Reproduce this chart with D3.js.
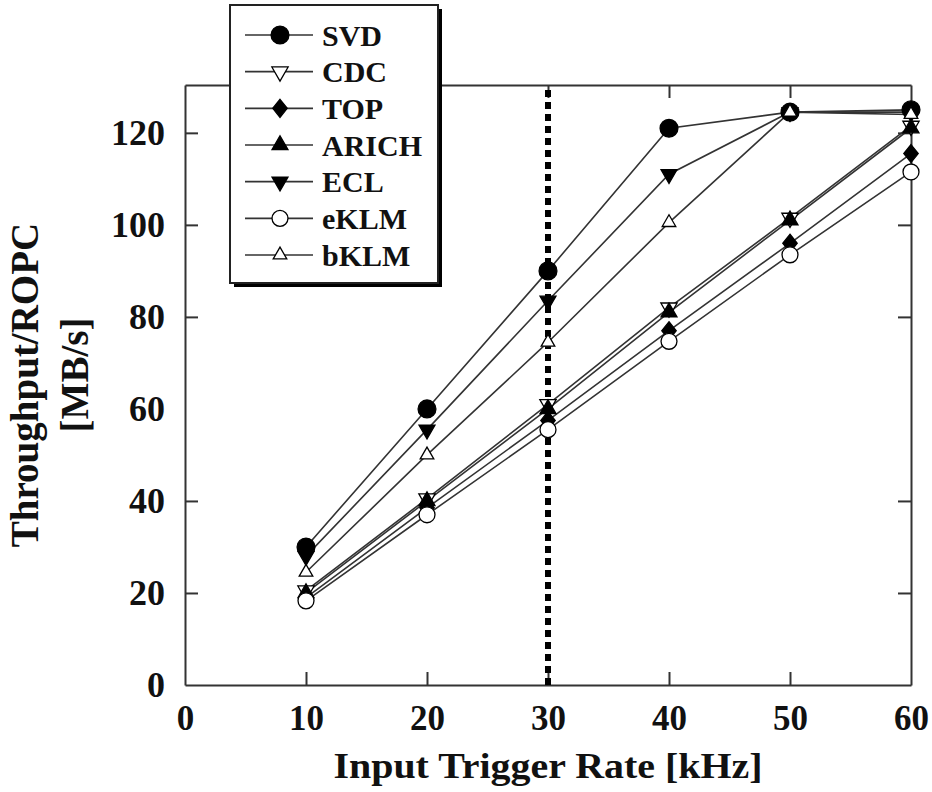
<!DOCTYPE html>
<html>
<head>
<meta charset="utf-8">
<script src="https://cdn.jsdelivr.net/npm/d3@7"></script>
<style>
  body { margin: 0; background: #fff; }
  svg text { font-family: "Liberation Serif", "Times New Roman", serif; font-weight: bold; fill: #111; }
</style>
</head>
<body>
<div id="chart"></div>
<script>
// data
var rates = [10, 20, 30, 40, 50, 60];
var svd   = [30, 60, 90, 121, 124.5, 125];
var cdc   = [20.5, 40.5, 61, 82, 101.5, 121.5];
var top_  = [19, 38.5, 57.5, 77, 96, 115.5];
var arich = [20, 40, 60, 81, 101, 121];
var ecl   = [28, 55.5, 83.5, 111, 124.5, 124.5];
var eklm  = [18.3, 37, 55.5, 74.7, 93.5, 111.5];
var bklm  = [24.5, 50, 74.5, 100.5, 124.5, 124];
var xTicks = [0, 10, 20, 30, 40, 50, 60];
var yTicks = [0, 20, 40, 60, 80, 100, 120];
var markerRate = 30;

// wider diamond than d3.symbolDiamond
var wideDiamond = {
  draw: function(context, size) {
    var h = Math.sqrt(size / 1.6);
    var w = h * 0.8;
    context.moveTo(0, -h);
    context.lineTo(w, 0);
    context.lineTo(0, h);
    context.lineTo(-w, 0);
    context.closePath();
  }
};

var series = [
  {name: "SVD",   values: svd,   shape: d3.symbolCircle,   size: 250, rot: 0,   fill: "#000"},
  {name: "CDC",   values: cdc,   shape: d3.symbolTriangle, size: 115, rot: 180, fill: "#fff"},
  {name: "TOP",   values: top_,  shape: wideDiamond,       size: 130, rot: 0,   fill: "#000"},
  {name: "ARICH", values: arich, shape: d3.symbolTriangle, size: 110, rot: 0,   fill: "#000"},
  {name: "ECL",   values: ecl,   shape: d3.symbolTriangle, size: 110, rot: 180, fill: "#000"},
  {name: "eKLM",  values: eklm,  shape: d3.symbolCircle,   size: 200, rot: 0,   fill: "#fff"},
  {name: "bKLM",  values: bklm,  shape: d3.symbolTriangle, size: 80,  rot: 0,   fill: "#fff"}
];

// 1. svg and margins
var svgWidth = 932, svgHeight = 792;
var margin = {top: 85, right: 21, bottom: 107, left: 185};
var width = svgWidth - margin.left - margin.right;
var height = svgHeight - margin.top - margin.bottom;

var svg = d3.select("#chart").append("svg")
    .attr("width", svgWidth)
    .attr("height", svgHeight);

var chartGroup = svg.append("g")
    .attr("transform", `translate(${margin.left}, ${margin.top})`);

// 2. scales
var xScale = d3.scaleLinear().domain([0, 60]).range([0, width]);
var yScale = d3.scaleLinear().domain([0, 130.4]).range([height, 0]);

// 3. axes, ticks pointing inwards, mirrored on top and right
var tickLen = 13;
var bottomAxis = d3.axisBottom(xScale).tickValues(xTicks).tickSizeInner(-tickLen).tickSizeOuter(0).tickPadding(20);
var leftAxis = d3.axisLeft(yScale).tickValues(yTicks).tickSizeInner(-tickLen).tickSizeOuter(0).tickPadding(20);
var topAxis = d3.axisTop(xScale).tickValues(xTicks).tickSizeInner(-tickLen).tickSizeOuter(0).tickFormat("");
var rightAxis = d3.axisRight(yScale).tickValues(yTicks).tickSizeInner(-tickLen).tickSizeOuter(0).tickFormat("");

var xAxis = chartGroup.append("g")
    .attr("transform", `translate(0, ${height})`)
    .call(bottomAxis);
var yAxis = chartGroup.append("g").call(leftAxis);
chartGroup.append("g").call(topAxis);
chartGroup.append("g").attr("transform", `translate(${width}, 0)`).call(rightAxis);

chartGroup.selectAll(".domain").attr("stroke", "#333").attr("stroke-width", 2);
chartGroup.selectAll(".tick line").attr("stroke", "#333").attr("stroke-width", 2);
xAxis.selectAll("text").attr("font-size", "35px").attr("dy", "0.71em").style("font-family", "Liberation Serif").style("font-weight", "bold").attr("fill", "#111");
yAxis.selectAll("text").attr("font-size", "36px").style("font-family", "Liberation Serif").style("font-weight", "bold").attr("fill", "#111");
// hide domain-end ticks that sit on the frame corners
chartGroup.selectAll(".tick").filter(d => d === 0 || d === 60).select("line").remove();

// 4. 30 kHz dashed marker
chartGroup.append("line")
    .attr("x1", xScale(markerRate)).attr("x2", xScale(markerRate))
    .attr("y1", yScale(0)).attr("y2", 0)
    .attr("stroke", "#000")
    .attr("stroke-width", 6)
    .attr("stroke-dasharray", "7,5");

// 5. lines
var line = d3.line()
    .x((d, i) => xScale(rates[i]))
    .y(d => yScale(d));

chartGroup.selectAll(".series-line")
    .data(series)
    .enter()
    .append("path")
    .attr("class", "series-line")
    .attr("d", d => line(d.values))
    .attr("fill", "none")
    .attr("stroke", "#333")
    .attr("stroke-width", 1.6);

// 6. markers
series.forEach(function(s) {
  chartGroup.selectAll(null)
      .data(s.values)
      .enter()
      .append("path")
      .attr("d", d3.symbol().type(s.shape).size(s.size))
      .attr("transform", (d, i) => `translate(${xScale(rates[i])}, ${yScale(d)}) rotate(${s.rot})`)
      .attr("fill", s.fill)
      .attr("stroke", "#000")
      .attr("stroke-width", 1.3);
});

// 7. legend box with shadow
var legend = svg.append("g").attr("transform", "translate(230, 5)");
legend.append("rect")
    .attr("x", 4).attr("y", 4).attr("width", 208).attr("height", 278)
    .attr("fill", "#000");
legend.append("rect")
    .attr("width", 208).attr("height", 278)
    .attr("fill", "#fff").attr("stroke", "#222").attr("stroke-width", 2);

var rowY = d3.scalePoint().domain(series.map(d => d.name)).range([30, 250]);

var rows = legend.selectAll(".legend-row")
    .data(series)
    .enter()
    .append("g")
    .attr("class", "legend-row")
    .attr("transform", d => `translate(0, ${rowY(d.name)})`);

rows.append("line")
    .attr("x1", 15).attr("x2", 83)
    .attr("stroke", "#333").attr("stroke-width", 1.6);

rows.append("path")
    .attr("d", d => d3.symbol().type(d.shape).size(d.size)())
    .attr("transform", d => `translate(50, 0) rotate(${d.rot})`)
    .attr("fill", d => d.fill)
    .attr("stroke", "#000")
    .attr("stroke-width", 1.3);

rows.append("text")
    .attr("x", 92)
    .attr("dy", "0.35em")
    .attr("font-size", "30px")
    .text(d => d.name);

// 8. axis titles
svg.append("text")
    .attr("x", 548)
    .attr("y", 778)
    .attr("text-anchor", "middle")
    .attr("font-size", "35px")
    .attr("textLength", 429)
    .attr("lengthAdjust", "spacingAndGlyphs")
    .text("Input Trigger Rate [kHz]");

svg.append("text")
    .attr("transform", "translate(38, 385) rotate(-90)")
    .attr("text-anchor", "middle")
    .attr("font-size", "39px")
    .text("Throughput/ROPC");

svg.append("text")
    .attr("transform", "translate(88, 375) rotate(-90)")
    .attr("text-anchor", "middle")
    .attr("font-size", "39px")
    .text("[MB/s]");
</script>
</body>
</html>
